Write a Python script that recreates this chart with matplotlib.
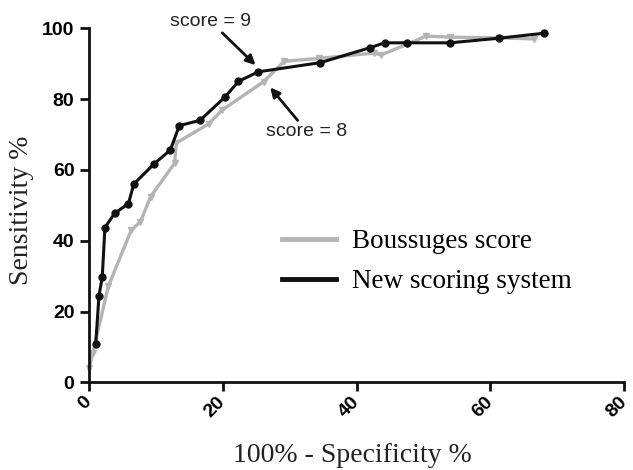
import matplotlib
matplotlib.use("Agg")
import matplotlib.pyplot as plt
from matplotlib.lines import Line2D

# ROC curves
boussuges_x = [0.05, 0.55, 2.9, 6.3, 7.7, 9.2, 12.8, 13.05, 17.9, 19.9, 26.1, 29.2, 34.4, 42.6, 43.7, 47.6, 50.4, 54.0, 61.3, 66.6]
boussuges_y = [4.0, 8.2, 27.2, 42.9, 45.4, 52.4, 61.9, 67.6, 73.0, 76.9, 84.9, 90.7, 91.5, 93.0, 92.5, 95.5, 97.8, 97.5, 97.3, 97.0]

new_x = [1.0, 1.49, 1.98, 2.38, 3.82, 5.9, 6.7, 9.67, 12.16, 13.5, 16.6, 20.3, 22.35, 25.3, 34.6, 42.0, 44.2, 47.6, 54.0, 61.3, 68.0]
new_y = [10.7, 24.4, 29.7, 43.7, 47.7, 50.5, 56.0, 61.6, 65.6, 72.5, 74.0, 80.5, 85.0, 87.7, 90.3, 94.5, 95.9, 95.9, 95.9, 97.2, 98.6]

x_ticks = [0, 20, 40, 60, 80]
y_ticks = [0, 20, 40, 60, 80, 100]

GRAY = '#b4b4b4'
BLACK = '#111111'

W, H = 633, 470
fig = plt.figure(figsize=(W / 100, H / 100), dpi=100)
ax = fig.add_axes([89 / W, 1 - 382.3 / H, 535 / W, 354 / H])

ax.plot(boussuges_x, boussuges_y, color=GRAY, lw=2.4, marker='v', ms=4.5,
        clip_on=False, zorder=2)
ax.plot(new_x, new_y, color=BLACK, lw=2.2, marker='o', ms=5,
        clip_on=False, zorder=3)

ax.set_xlim(0, 80)
ax.set_ylim(0, 100)
ax.set_xticks(x_ticks)
ax.set_yticks(y_ticks)
for s in ['top', 'right']:
    ax.spines[s].set_visible(False)
for s in ['left', 'bottom']:
    ax.spines[s].set_linewidth(2.0)
    ax.spines[s].set_color(BLACK)
ax.tick_params(width=2.0, length=6.5, color=BLACK)
ax.tick_params(axis='y', pad=4)
ax.tick_params(axis='x', pad=6)
for lab in ax.get_yticklabels():
    lab.set_fontfamily('Liberation Sans')
    lab.set_fontweight('bold')
    lab.set_fontsize(14)
for lab in ax.get_xticklabels():
    lab.set_fontfamily('Liberation Sans')
    lab.set_fontweight('bold')
    lab.set_fontsize(14)
    lab.set_rotation(45)
    lab.set_rotation_mode('anchor')
    lab.set_ha('right')
    lab.set_va('center')

fig.text(22 / W, 1 - 210 / H, 'Sensitivity %', rotation=90, ha='center', va='center',
         fontfamily='Liberation Serif', fontsize=20, color='#222222')
fig.text(352 / W, 1 - 455 / H, '100% - Specificity %', ha='center', va='center',
         fontfamily='Liberation Serif', fontsize=20, color='#222222')

handles = [Line2D([], [], color=GRAY, lw=3.5), Line2D([], [], color=BLACK, lw=3.5)]
ax.legend(handles, ['Boussuges score', 'New scoring system'],
          loc='center left', bbox_to_anchor=(0.36, 0.34), frameon=False,
          borderpad=0, borderaxespad=0, handlelength=2.0, handletextpad=0.6,
          labelspacing=0.55, prop={'family': 'Liberation Serif', 'size': 19.5})

ax.annotate('score = 9', xy=(24.9, 89.6), xytext=(18.2, 101.9), ha='center', va='center',
            fontfamily='Liberation Sans', fontsize=14, color='#222222', annotation_clip=False,
            arrowprops=dict(arrowstyle='-|>', color=BLACK, lw=2, mutation_scale=14,
                            shrinkA=0, shrinkB=0))
ax.annotate('score = 8', xy=(27.1, 83.3), xytext=(32.6, 70.8), ha='center', va='center',
            fontfamily='Liberation Sans', fontsize=14, color='#222222', annotation_clip=False,
            arrowprops=dict(arrowstyle='-|>', color=BLACK, lw=2, mutation_scale=14,
                            shrinkA=0, shrinkB=0))

fig.savefig('out.png', dpi=100)
